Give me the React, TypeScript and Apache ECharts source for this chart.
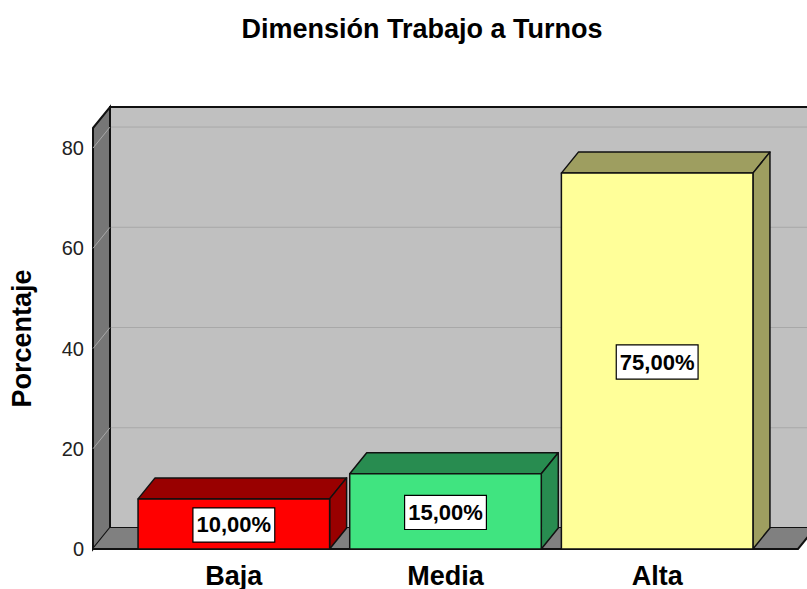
import React, { useEffect, useRef } from "react";
import * as echarts from "echarts";

const categories = ["Baja", "Media", "Alta"];
const values = [10, 15, 75];
const valueLabels = ["10,00%", "15,00%", "75,00%"];
const frontColors = ["#FF0000", "#40E480", "#FFFF99"];
const shadeColors = ["#990000", "#288C50", "#9E9E60"];
const gridTicks = [20, 40, 60, 80];
const yAxisMax = 84;

const FONT = "'Liberation Sans', Arial, Helvetica, sans-serif";
const DX = 17;
const DY = -21;
const SIDE = 35;

export default function App() {
  const ref = useRef<HTMLDivElement>(null);
  useEffect(() => {
    if (!ref.current) return;
    const chart = echarts.init(ref.current, undefined, { renderer: "svg" });

    const wallRender = (params: any, api: any) => {
      const cs = params.coordSys;
      const L = cs.x - SIDE;
      const R = cs.x + cs.width + SIDE;
      const T = cs.y;
      const B = api.coord([0, 0])[1];
      const children: any[] = [];
      children.push({
        type: "polygon",
        shape: { points: [[L + DX, T + DY], [R + DX + 40, T + DY], [R + DX + 40, B + DY], [L + DX, B + DY]] },
        style: { fill: "#C0C0C0", stroke: "#111", lineWidth: 2 },
      });
      gridTicks.forEach((v) => {
        const y = api.coord([0, v])[1];
        children.push({
          type: "polyline",
          shape: { points: [[L, y], [L + DX, y + DY], [R + DX + 40, y + DY]] },
          style: { stroke: "#A8A8A8", lineWidth: 1, fill: null },
        });
      });
      children.push({
        type: "polygon",
        shape: { points: [[L, T], [L + DX, T + DY], [L + DX, B + DY], [L, B]] },
        style: { fill: "#767676", stroke: "#111", lineWidth: 2 },
      });
      gridTicks.forEach((v) => {
        const y = api.coord([0, v])[1];
        children.push({
          type: "line",
          shape: { x1: L, y1: y, x2: L + DX, y2: y + DY },
          style: { stroke: "#A8A8A8", lineWidth: 1 },
        });
      });
      children.push({
        type: "polygon",
        shape: { points: [[L, B], [L + DX, B + DY], [R + DX, B + DY], [R, B]] },
        style: { fill: "#808080" },
      });
      children.push({
        type: "polyline",
        shape: { points: [[L, B], [R, B], [R + DX, B + DY]] },
        style: { stroke: "#111", lineWidth: 2, fill: null },
      });
      return { type: "group", children };
    };

    const barRender = (params: any, api: any) => {
      const idx = api.value(0);
      const v = api.value(1);
      const top = api.coord([idx, v]);
      const base = api.coord([idx, 0]);
      const w = api.size([1, 0])[0] * 0.905;
      const cx = top[0];
      const x0 = cx - w / 2;
      const x1 = cx + w / 2;
      const yT = top[1];
      const yB = base[1];
      const stroke = { stroke: "#111", lineWidth: 1.5, lineJoin: "round" };
      return {
        type: "group",
        children: [
          {
            type: "polygon",
            shape: { points: [[x0, yT], [x0 + DX, yT + DY], [x1 + DX, yT + DY], [x1, yT]] },
            style: { fill: shadeColors[params.dataIndex], ...stroke },
          },
          {
            type: "polygon",
            shape: { points: [[x1, yT], [x1 + DX, yT + DY], [x1 + DX, yB + DY], [x1, yB]] },
            style: { fill: shadeColors[params.dataIndex], ...stroke },
          },
          {
            type: "rect",
            shape: { x: x0, y: yT, width: w, height: yB - yT },
            style: { fill: frontColors[params.dataIndex], ...stroke },
          },
          {
            type: "text",
            x: cx,
            y: (yT + yB) / 2 + 1,
            style: {
              text: valueLabels[params.dataIndex],
              fill: "#000",
              font: `bold 22px ${FONT}`,
              align: "center",
              verticalAlign: "middle",
              backgroundColor: "#FFFFFF",
              borderColor: "#000",
              borderWidth: 1.2,
              padding: [6, 3, 5, 3],
            },
          },
        ],
      };
    };

    chart.setOption({
      animation: false,
      backgroundColor: "#FFFFFF",
      title: {
        text: "Dimensión Trabajo a Turnos",
        left: 422,
        textAlign: "center",
        top: 15,
        padding: 0,
        textStyle: { fontFamily: FONT, fontSize: 27, fontWeight: "bold", color: "#000" },
      },
      grid: { left: 127, right: 44, top: 128, bottom: 40, containLabel: false },
      xAxis: {
        type: "category",
        data: categories,
        axisLine: { show: false },
        axisTick: { show: false },
        axisLabel: { fontFamily: FONT, fontSize: 27, fontWeight: "bold", color: "#000", margin: 13 },
        splitLine: { show: false },
      },
      yAxis: {
        type: "value",
        min: 0,
        max: yAxisMax,
        interval: 20,
        name: "Porcentaje",
        nameLocation: "middle",
        nameGap: 93,
        nameTextStyle: { fontFamily: FONT, fontSize: 27, fontWeight: "bold", color: "#000" },
        axisLine: { show: false },
        axisTick: { show: false },
        splitLine: { show: false },
        axisLabel: {
          fontFamily: FONT,
          fontSize: 20,
          color: "#222",
          margin: 44,
          formatter: (v: number) => (v % 20 === 0 ? String(v) : ""),
        },
      },
      series: [
        {
          type: "custom",
          renderItem: wallRender,
          data: [[0, 0]],
          silent: true,
          z: 1,
        },
        {
          type: "custom",
          renderItem: barRender,
          data: values.map((v, i) => [i, v]),
          z: 2,
        },
      ],
    });
    return () => chart.dispose();
  }, []);
  return (
    <div
      ref={ref}
      style={{ position: "fixed", left: 0, top: 0, width: 807, height: 589 }}
    />
  );
}
